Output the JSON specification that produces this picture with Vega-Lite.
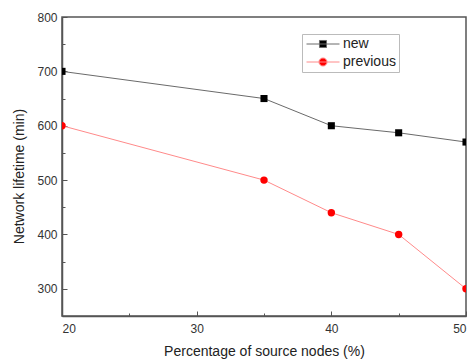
{
  "$schema": "https://vega.github.io/schema/vega-lite/v6.json",
  "width": 404,
  "height": 299,
  "autosize": {"type": "none"},
  "padding": {"left": 62, "top": 17, "right": 4, "bottom": 44},
  "background": "white",
  "config": {
    "font": "Liberation Sans",
    "view": {"stroke": "#555", "strokeWidth": 1.5},
    "axis": {
      "domainColor": "#555",
      "domainWidth": 1.5,
      "tickColor": "#555",
      "tickWidth": 1,
      "labelColor": "#333",
      "labelFontSize": 12,
      "labelFont": "Liberation Sans",
      "titleFont": "Liberation Sans",
      "titleFontSize": 14,
      "titleFontWeight": "normal",
      "titleColor": "#222",
      "grid": false
    },
    "legend": {
      "labelFont": "Liberation Sans",
      "labelFontSize": 14,
      "labelColor": "#222"
    }
  },
  "data": {
    "values": [
      {"pct": 20, "life": 700, "series": "new"},
      {"pct": 35, "life": 650, "series": "new"},
      {"pct": 40, "life": 600, "series": "new"},
      {"pct": 45, "life": 587, "series": "new"},
      {"pct": 50, "life": 570, "series": "new"},
      {"pct": 20, "life": 600, "series": "previous"},
      {"pct": 35, "life": 500, "series": "previous"},
      {"pct": 40, "life": 440, "series": "previous"},
      {"pct": 45, "life": 400, "series": "previous"},
      {"pct": 50, "life": 300, "series": "previous"}
    ]
  },
  "encoding": {
    "x": {
      "field": "pct",
      "type": "quantitative",
      "scale": {"domain": [20, 50], "nice": false, "zero": false},
      "axis": {
        "title": "Percentage of source nodes (%)",
        "values": [20, 25, 30, 35, 40, 45, 50],
        "labelExpr": "datum.value % 10 === 0 ? datum.label : ''",
        "tickSize": {"condition": {"test": "datum.value % 10 === 0", "value": -5}, "value": -3},
        "labelPadding": 12,
        "titlePadding": 10
      }
    },
    "y": {
      "field": "life",
      "type": "quantitative",
      "scale": {"domain": [250, 800], "nice": false, "zero": false},
      "axis": {
        "title": "Network lifetime (min)",
        "values": [300, 350, 400, 450, 500, 550, 600, 650, 700, 750, 800],
        "labelExpr": "datum.value % 100 === 0 ? datum.label : ''",
        "tickSize": {"condition": {"test": "datum.value % 100 === 0", "value": -5}, "value": -3},
        "labelPadding": 10,
        "titlePadding": 10,
        "titleY": 159
      }
    }
  },
  "layer": [
    {
      "transform": [{"filter": "datum.series === 'new'"}],
      "mark": {"type": "line", "strokeWidth": 1, "clip": true, "color": "#6a6a6a"},
      "encoding": {}
    },
    {
      "transform": [{"filter": "datum.series === 'previous'"}],
      "mark": {"type": "line", "strokeWidth": 1, "clip": true, "color": "#ff8a8a"},
      "encoding": {}
    },
    {
      "transform": [{"filter": "datum.series === 'new'"}],
      "mark": {"type": "point", "filled": true, "opacity": 1, "size": 50, "shape": "square", "color": "#000000", "clip": true}
    },
    {
      "transform": [{"filter": "datum.series === 'previous'"}],
      "mark": {"type": "point", "filled": true, "opacity": 1, "size": 55, "shape": "circle", "color": "#ff0000", "clip": true}
    },
    {
      "transform": [{"filter": "false"}],
      "mark": {"type": "point", "filled": true, "opacity": 1, "strokeWidth": 1, "clip": true},
      "encoding": {
        "color": {
          "field": "series",
          "type": "nominal",
          "scale": {"domain": ["new", "previous"], "range": ["#000000", "#ff0000"]},
          "legend": {
            "title": null,
            "orient": "none",
            "legendX": 240,
            "legendY": 17,
            "padding": 3,
            "strokeColor": "#bbb",
            "fillColor": "white",
            "symbolSize": 121,
            "symbolStrokeWidth": 1,
            "labelOffset": 24,
            "rowPadding": 4
          }
        },
        "stroke": {
          "field": "series",
          "type": "nominal",
          "scale": {"domain": ["new", "previous"], "range": ["#6a6a6a", "#ff8a8a"]},
          "legend": {
            "title": null,
            "orient": "none",
            "legendX": 240,
            "legendY": 17,
            "padding": 3,
            "strokeColor": "#bbb",
            "fillColor": "white",
            "symbolSize": 121,
            "symbolStrokeWidth": 1,
            "labelOffset": 24,
            "rowPadding": 4
          }
        },
        "shape": {
          "field": "series",
          "type": "nominal",
          "scale": {
            "domain": ["new", "previous"],
            "range": [
              "M-1,0H5M1.36,-0.64H2.64V0.64H1.36Z",
              "M-1,0H5M1.27,0A0.73,0.73 0 1,1 2.73,0A0.73,0.73 0 1,1 1.27,0Z"
            ]
          },
          "legend": {
            "title": null,
            "orient": "none",
            "legendX": 240,
            "legendY": 17,
            "padding": 3,
            "strokeColor": "#bbb",
            "fillColor": "white",
            "symbolSize": 121,
            "symbolStrokeWidth": 1,
            "labelOffset": 24,
            "rowPadding": 4
          }
        }
      }
    }
  ]
}
